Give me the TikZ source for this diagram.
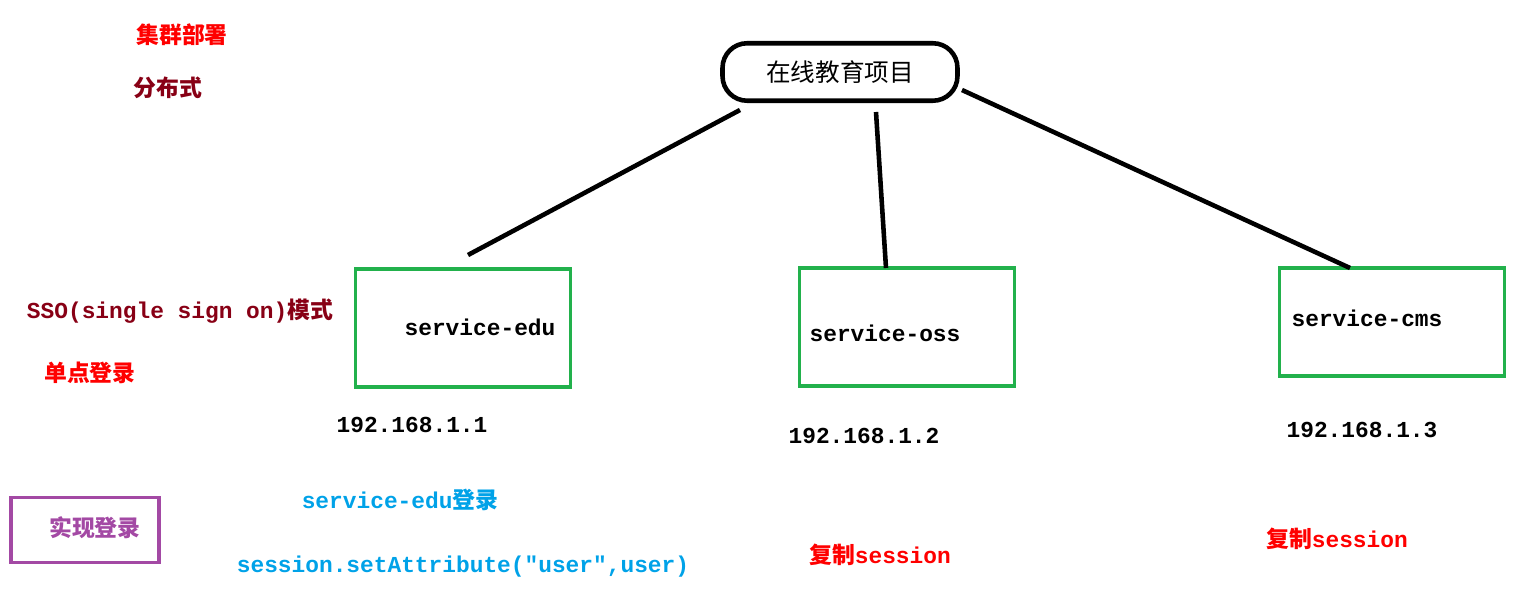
\documentclass[tikz,border=0pt]{standalone}
\usepackage{fontspec}
\setmonofont{Liberation Mono}
\newfontfamily\cjk{Noto Sans CJK SC}
\usetikzlibrary{positioning}
\definecolor{boxgreen}{HTML}{22B14C}
\definecolor{darkred}{HTML}{880015}
\definecolor{skyblue}{HTML}{00A2E8}
\definecolor{violet}{HTML}{A349A4}
\tikzset{
    server/.style={
           draw=boxgreen, line width=2.2pt,
           minimum width=4.3cm,
           minimum height=2.35cm
           },
    label/.style={
           inner sep=0pt,
           font=\ttfamily\bfseries\fontsize{13}{15}\selectfont
           },
    note/.style={
           inner sep=0pt,
           font=\cjk\bfseries\fontsize{13}{15}\selectfont
           },
    link/.style={
           line width=2.6pt
           }
}
\begin{document}
\begin{tikzpicture}[x=0.02cm,y=-0.02cm]
   \useasboundingbox (0,0) rectangle (1522,590);
   % root
   \node[draw, line width=2.6pt, rounded corners=14pt, minimum width=4.7cm, minimum height=1.15cm,
         font=\cjk\fontsize{14}{16}\selectfont] (root) at (840,72) {在线教育项目};
   % services
   \node[server] (edu) at (463,328) {};
   \node[server] (oss) at (907,327) {};
   \node[server, minimum width=4.5cm, minimum height=2.15cm] (cms) at (1392,322) {};
   \node[label] (edut) at (480,327) {service-edu};
   \node[label] (osst) at (885,333) {service-oss};
   \node[label] (cmst) at (1367,318) {service-cms};
   \node[label] (ip1) at (412,425) {192.168.1.1};
   \node[label] (ip2) at (864,436) {192.168.1.2};
   \node[label] (ip3) at (1362,430) {192.168.1.3};
   % links
   \coordinate (r1) at (740,110); \coordinate (e1) at (468,255);
   \coordinate (r2) at (876,112); \coordinate (o1) at (886,268);
   \coordinate (r3) at (962,90);  \coordinate (c1) at (1350,268);
   \draw[link] (r1) -- (e1);
   \draw[link] (r2) -- (o1);
   \draw[link] (r3) -- (c1);
   % notes
   \node[note, red] (cluster) at (182,35) {集群部署};
   \node[note, darkred] (dist) at (168,88) {分布式};
   \node[note, darkred, font=\ttfamily\bfseries\fontsize{13}{15}\selectfont] (sso) at (180,311) {SSO(single sign on){\cjk 模式}};
   \node[note, red] (single) at (90,373) {单点登录};
   \node[draw=violet, line width=2.2pt, minimum width=2.95cm, minimum height=1.3cm] (impl) at (85,530) {};
   \node[note, violet] (implt) at (95,528) {实现登录};
   \node[label, skyblue] (login) at (400,500) {service-edu{\cjk 登录}};
   \node[label, skyblue] (attr) at (463,567) {session.setAttribute("user",user)};
   \node[label, red] (copy1) at (880,555) {{\cjk 复制}session};
   \node[label, red] (copy2) at (1337,539) {{\cjk 复制}session};
\end{tikzpicture}
\end{document}
